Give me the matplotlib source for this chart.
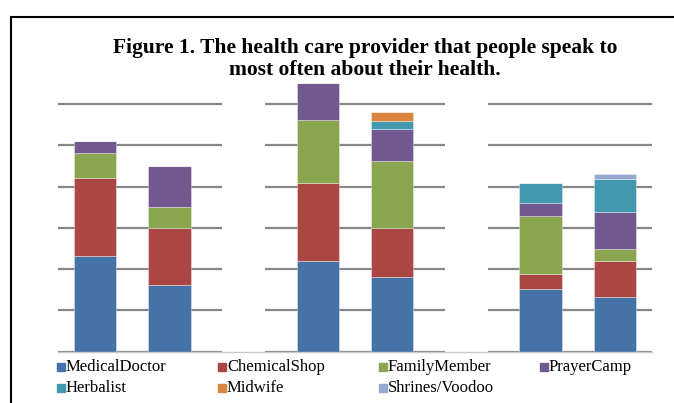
import matplotlib
matplotlib.use("Agg")
import matplotlib.pyplot as plt
from matplotlib.patches import Rectangle

# stacked shares per bar (3 groups of 2 bars)
series = ["MedicalDoctor", "ChemicalShop", "FamilyMember", "PrayerCamp",
          "Herbalist", "Midwife", "Shrines/Voodoo"]
medical_doctor = [23.2, 16.2, 22.0, 18.0, 15.1, 13.2]
chemical_shop = [18.8, 13.8, 18.9, 12.0, 3.8, 8.8]
family_member = [6.1, 5.0, 15.2, 16.2, 14.1, 3.0]
prayer_camp = [2.9, 10.1, 9.1, 7.8, 3.1, 8.9]
herbalist = [0, 0, 0, 2.0, 4.8, 8.0]
midwife = [0, 0, 0, 2.1, 0, 0]
shrines = [0, 0, 0, 0, 0, 1.1]
colors = ["#4572A7", "#AA4643", "#89A54E", "#71588F",
          "#4198AF", "#DB843D", "#93A9CF"]
yticks = [0, 10, 20, 30, 40, 50, 60]

n_groups = 3
per_group = 2
slots = [g * (per_group + 1) + i for g in range(n_groups) for i in range(per_group)]
gaps = [g * (per_group + 1) + per_group for g in range(n_groups - 1)]

fig = plt.figure(figsize=(6.74, 4.03), dpi=100)
ax = fig.add_axes([58 / 674, 1 - 351.7 / 403, 594 / 674, 272.4 / 403])

for y in yticks:
    ax.axhline(y, color="#878787", lw=1.6, zorder=0.5)

# white spacer columns break the gridlines between groups
ax.bar(gaps, [yticks[-1] + 1] * len(gaps), width=0.57, color="white", zorder=1)

bottom = [0] * len(slots)
data = [medical_doctor, chemical_shop, family_member, prayer_camp,
        herbalist, midwife, shrines]
for name, vals, c in zip(series, data, colors):
    ax.bar(slots, vals, width=0.57, bottom=bottom, color=c,
           edgecolor=(1, 1, 1, 0.5), linewidth=0.5, zorder=2, label=name)
    bottom = [b + v for b, v in zip(bottom, vals)]

ax.set_xlim(-0.5, 7.5)
ax.set_ylim(0, 66)
ax.set_xticks([])
ax.set_yticks([])
for s in ["top", "left", "right"]:
    ax.spines[s].set_visible(False)
ax.spines["bottom"].set_color("#C8C8C8")
ax.spines["bottom"].set_linewidth(1.0)
ax.patch.set_alpha(0)

fig.text(365 / 674, 1 - 59 / 403,
         "Figure 1. The health care provider that people speak to\n"
         "most often about their health.",
         ha="center", va="center", fontsize=15.5, fontweight="bold",
         family="Liberation Serif", linespacing=1.17)

# legend laid out in even columns like the original
for i, (name, c) in enumerate(zip(series, colors)):
    row, col = divmod(i, 4)
    x = (57 + col * 161) / 674
    y = 1 - (367 + row * 21) / 403
    fig.add_artist(Rectangle((x, y - 4 / 403), 8 / 674, 8 / 403,
                             transform=fig.transFigure, color=c))
    fig.text(x + 9 / 674, y, name, ha="left", va="center",
             fontsize=12, family="Liberation Serif")

fig.add_artist(Rectangle((11 / 674, -0.1), 1.2, 1.1 - 17 / 403,
                         transform=fig.transFigure, fill=False,
                         edgecolor="black", lw=1.5))

fig.savefig("out.png", dpi=100)
